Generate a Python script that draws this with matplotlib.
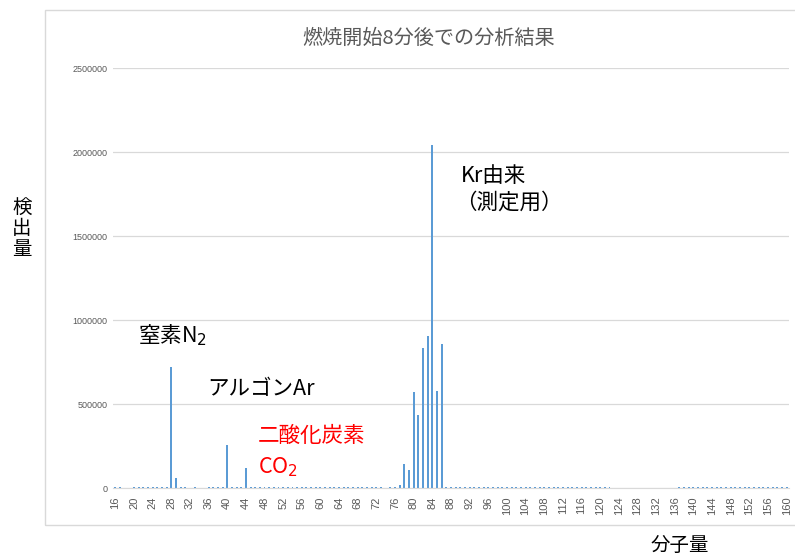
import matplotlib
matplotlib.use("Agg")
import matplotlib.pyplot as plt
from matplotlib.patches import Rectangle

plt.rcParams['font.family'] = ['Noto Sans CJK JP', 'DejaVu Sans']

# mass spectrum 8 min after ignition: m/z 16..160
mass = list(range(16, 161))
counts = [
    5000, 5000, 0, 0, 5000, 5000, 5000, 5000, 5000, 5000,          # 16-25
    5000, 5000, 720000, 57000, 5000, 5000, 0, 5000, 0, 0,          # 26-35
    5000, 5000, 5000, 5000, 257000, 5000, 5000, 5000, 120000, 5000,  # 36-45
    5000, 5000, 5000, 5000, 5000, 5000, 5000, 5000, 5000, 5000,    # 46-55
    5000, 5000, 5000, 5000, 5000, 5000, 5000, 5000, 5000, 5000,    # 56-65
    5000, 5000, 5000, 5000, 5000, 5000, 5000, 5000, 0, 5000,       # 66-75
    5000, 20000, 141000, 106000, 572000, 437000, 835000, 906000, 2040000, 576000,  # 76-85
    860000, 5000, 5000, 5000, 5000, 5000, 5000, 5000, 5000, 5000,  # 86-95
    5000, 5000, 5000, 5000, 5000, 5000, 5000, 5000, 5000, 5000,    # 96-105
    5000, 5000, 5000, 5000, 5000, 5000, 5000, 5000, 5000, 5000,    # 106-115
    5000, 5000, 5000, 5000, 5000, 5000, 5000, 0, 0, 0,             # 116-125
    0, 0, 0, 0, 0, 0, 0, 0, 0, 0,                                  # 126-135
    0, 5000, 5000, 5000, 5000, 5000, 5000, 5000, 5000, 5000,       # 136-145
    5000, 5000, 5000, 5000, 5000, 5000, 5000, 5000, 5000, 5000,    # 146-155
    5000, 5000, 5000, 5000, 5000,                                  # 156-160
]
xticks = list(range(16, 161, 4))
yticks = [0, 500000, 1000000, 1500000, 2000000, 2500000]

W, H = 795, 555
def fx(x): return x / W
def fy(y): return 1 - y / H

fig = plt.figure(figsize=(W / 100, H / 100), dpi=100)
fig.patches.append(Rectangle((fx(45), fy(525)), 1, fy(10) - fy(525), transform=fig.transFigure,
                             fill=False, ec="#D9D9D9", lw=1))

ax = fig.add_axes([fx(113), fy(488), (789 - 113) / W, (488 - 68) / H])
ax.bar(mass, counts, width=0.42, color="#5B9BD5", zorder=2)
ax.set_xlim(15.5, 160.5)
ax.set_ylim(0, 2500000)
ax.set_yticks(yticks)
ax.set_yticklabels([str(v) for v in yticks], fontsize=6.5, color="#595959",
                   family=["Liberation Sans"])
ax.set_xticks(xticks)
ax.set_xticklabels([str(v) for v in xticks], rotation=90, fontsize=8, color="#595959",
                   family=["Liberation Sans"])
ax.yaxis.grid(True, color="#D9D9D9", lw=0.9)
ax.set_axisbelow(True)
for s in ["top", "right", "left"]:
    ax.spines[s].set_visible(False)
ax.spines["bottom"].set_color("#D9D9D9")
ax.tick_params(length=0)
ax.tick_params(axis="y", pad=4)
ax.tick_params(axis="x", pad=6)

fig.text(fx(429), fy(38), "燃焼開始8分後での分析結果", fontsize=14.5, color="#595959",
         ha="center", va="center")
fig.text(fx(22), fy(228), "検\n出\n量", fontsize=14, ha="center", va="center", linespacing=1.0)
fig.text(fx(680), fy(545), "分子量", fontsize=14, ha="center", va="center")

fig.text(fx(138), fy(335), "窒素N$_2$", fontsize=15.5, ha="left", va="center")
fig.text(fx(207), fy(389), "アルゴンAr", fontsize=15.5, ha="left", va="center")
fig.text(fx(258), fy(436), "二酸化炭素", fontsize=15.5, color="red", ha="left", va="center")
fig.text(fx(258), fy(467), "CO$_2$", fontsize=15.5, color="red", ha="left", va="center")
fig.text(fx(461), fy(176), "Kr由来", fontsize=15.5, ha="left", va="center")
fig.text(fx(455), fy(203), "（測定用）", fontsize=15.5, ha="left", va="center")

fig.savefig("out.png", dpi=100)
